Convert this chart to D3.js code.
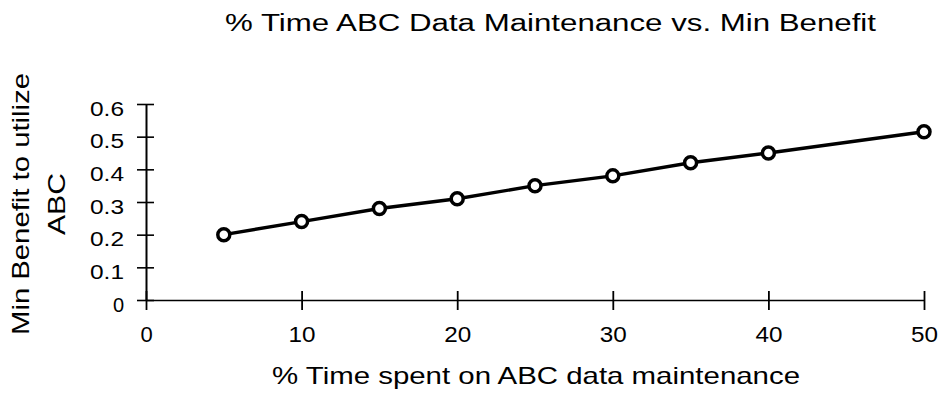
<!DOCTYPE html>
<html><head><meta charset="utf-8">
<script src="https://cdn.jsdelivr.net/npm/d3@7"></script>
<style>body{margin:0;background:#fff}svg{display:block}text{font-family:"Liberation Sans",Arial,sans-serif;fill:#000}</style>
</head><body><svg id="c" width="942" height="407"></svg>
<script>
const xValues = [5, 10, 15, 20, 25, 30, 35, 40, 50];
const yValues = [0.20, 0.24, 0.28, 0.31, 0.35, 0.38, 0.42, 0.45, 0.515];
const xTicks = [0, 10, 20, 30, 40, 50];
const yTicks = [0, 0.1, 0.2, 0.3, 0.4, 0.5, 0.6];
const title = "% Time ABC Data Maintenance vs. Min Benefit";
const xTitle = "% Time spent on ABC data maintenance";
const yTitle = ["Min Benefit to utilize", "ABC"];

const svg = d3.select("#c");
const x = d3.scaleLinear().domain([0, 50]).range([146, 924]);
const y = d3.scaleLinear().domain([0, 0.6]).range([300, 104]);

// y axis
const ya = svg.append("g").attr("transform", `translate(${x(0)},0)`)
  .call(d3.axisLeft(y).tickValues(yTicks).tickFormat(d => d === 0 ? "0" : d3.format(".1f")(d)).tickSizeInner(8).tickSizeOuter(0).tickPadding(14));
ya.select(".domain").attr("stroke", "#000").attr("stroke-width", 2);
ya.selectAll(".tick line").attr("x2", -9).attr("x1", 8).attr("stroke-width", 1.6);
ya.selectAll(".tick text").style("font-size", "20px").attr("dy", "0.55em")
  .each(function(d) { if (d !== 0) d3.select(this).attr("textLength", 34).attr("lengthAdjust", "spacingAndGlyphs"); });

// x axis
const xa = svg.append("g").attr("transform", `translate(0,${y(0)})`)
  .call(d3.axisBottom(x).tickValues(xTicks).tickSizeInner(10).tickSizeOuter(0).tickPadding(32));
xa.select(".domain").attr("stroke", "#000").attr("stroke-width", 1.6);
xa.selectAll(".tick line").attr("y1", -9).attr("y2", 10).attr("stroke-width", 1.8);
xa.selectAll(".tick text").style("font-size", "22px").attr("dy", "0")
  .each(function(d) { if (d !== 0) d3.select(this).attr("textLength", 27).attr("lengthAdjust", "spacingAndGlyphs"); });

// line
const data = xValues.map((d, i) => [d, yValues[i]]);
svg.append("path").datum(data)
  .attr("fill", "none").attr("stroke", "#000").attr("stroke-width", 3.4)
  .attr("d", d3.line().x(d => x(d[0])).y(d => y(d[1])));
svg.selectAll("circle.pt").data(data).join("circle").attr("class", "pt")
  .attr("cx", d => x(d[0])).attr("cy", d => y(d[1])).attr("r", 6)
  .attr("fill", "#fff").attr("stroke", "#000").attr("stroke-width", 3.5);

// titles
svg.append("text").attr("x", 225).attr("y", 31)
  .attr("textLength", 651).attr("lengthAdjust", "spacingAndGlyphs")
  .style("font-size", "23px").text(title);
svg.append("text").attr("x", 272).attr("y", 384)
  .attr("textLength", 528).attr("lengthAdjust", "spacingAndGlyphs")
  .style("font-size", "24px").text(xTitle);
const yLens = [262, 62];
const yBase = [29, 65];
yTitle.forEach((t, i) => {
  svg.append("text").attr("transform", `translate(${yBase[i]},${204}) rotate(-90)`)
    .attr("text-anchor", "middle")
    .attr("textLength", yLens[i]).attr("lengthAdjust", "spacingAndGlyphs")
    .style("font-size", "24px").text(t);
});
</script></body></html>
